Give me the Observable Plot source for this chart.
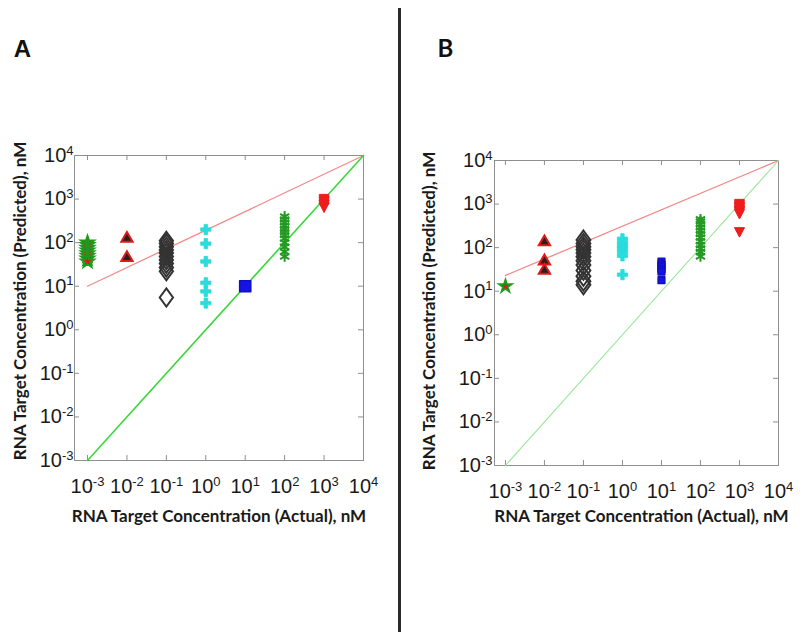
<!DOCTYPE html>
<html><head><meta charset="utf-8">
<script src="https://cdn.jsdelivr.net/npm/d3@7"></script>
<script src="https://cdn.jsdelivr.net/npm/@observablehq/plot@0.6"></script>
<style>
body{margin:0;background:#fff;}
#root{position:relative;width:800px;height:640px;overflow:hidden;background:#fff;}
#root svg{position:absolute;top:0;}
#divider{position:absolute;left:398px;top:8px;width:3px;height:624px;background:#2b2b2b;}
</style></head><body><div id="root"><div id="divider"></div></div>
<script>
// ---- categories / ticks ----
const xLevels = [0.001, 0.01, 0.1, 1, 10, 100, 1000];
const decadeTicks = [1e-3, 1e-2, 1e-1, 1e0, 1e1, 1e2, 1e3, 1e4];
const panelLetters = ["A", "B"];
const xTitle = "RNA Target Concentration (Actual), nM";
const yTitle = "RNA Target Concentration (Predicted), nM";

// ---- Panel A: predicted values at each actual concentration ----
const aStar = [100, 88, 76, 66, 57, 50, 43, 37];            // 1e-3
const aTriUp = [125, 45];                                    // 1e-2
const aDiamond = [110, 95, 80, 68, 58, 48, 40, 33, 27, 22, 5.5]; // 1e-1
const aCross = [200, 95, 37, 12, 7.6, 4.1];                  // 1e0
const aBlueSquare = [10];                                    // 1e1
const aAsterisk = [400, 340, 290, 245, 205, 175, 150, 125, 100, 80, 62, 48]; // 1e2
const aRedSquare = [1000];                                   // 1e3
const aTriDown = [900, 750, 650];                            // 1e3

// ---- Panel B ----
const bStar = [13];
const bTriUp = [135, 49, 30];
const bDiamond = [150, 125, 105, 90, 75, 62, 50, 40, 30, 22, 17, 14];
const bCross = [160, 130, 110, 95, 80, 65, 24];
const bBlueSquare = [48, 42, 37, 32, 28, 18];
const bAsterisk = [450, 400, 340, 290, 245, 205, 170, 140, 115, 95, 80, 63];
const bRedSquare = [1000];
const bTriDown = [850, 700, 600, 230];

// ---- reference lines (x, y) ----
const identityX = [1e-3, 1e4], identityY = [1e-3, 1e4];
const aFitX = [1e-3, 1e4], aFitY = [10, 1e4];
const bFitX = [1e-3, 1e4], bFitY = [23, 1e4];

// custom symbols
const triDown = {draw(ctx, size){const r=Math.sqrt(size/Math.PI); ctx.moveTo(-r,-0.85*r); ctx.lineTo(r,-0.85*r); ctx.lineTo(0,1.05*r); ctx.closePath();}};
const tallDiamond = {draw(ctx, size){const r=Math.sqrt(size/Math.PI); ctx.moveTo(0,-1.3*r); ctx.lineTo(0.95*r,0); ctx.lineTo(0,1.3*r); ctx.lineTo(-0.95*r,0); ctx.closePath();}};

function pts(vals, xi){ return vals.map(v => ({x: xLevels[xi], y: v})); }
function line(xs, ys){ return xs.map((x,i) => ({x, y: ys[i]})); }

function panel(cfg){
  const W = 400, H = 640;
  const fh = H - cfg.mt - cfg.mb;
  const fw = W - cfg.ml - cfg.mr;
  const frameColor = "#8f8f8f";
  const titleFont = "Lato, 'Open Sans', sans-serif";
  const s = cfg.series;
  const fmt = d => `10^${Math.round(Math.log10(d))}`;
  const plot = Plot.plot({
    width: W, height: H,
    marginLeft: cfg.ml, marginRight: cfg.mr, marginTop: cfg.mt, marginBottom: cfg.mb,
    style: {fontFamily: "'Liberation Sans', Arial, sans-serif", fontSize: "20px", color: "#1a1a1a", background: "transparent"},
    x: {type: "log", domain: [Math.pow(10, cfg.xmin), 1e4], axis: null},
    y: {type: "log", domain: [1e-3, 1e4], axis: null},
    marks: [
      Plot.frame({stroke: frameColor}),
      Plot.tickX(decadeTicks, {x: d => d, stroke: frameColor, insetTop: fh - 5}),
      Plot.tickX(decadeTicks, {x: d => d, stroke: frameColor, insetBottom: fh - 5}),
      Plot.tickY(decadeTicks, {y: d => d, stroke: frameColor, insetRight: fw - 5}),
      Plot.tickY(decadeTicks, {y: d => d, stroke: frameColor, insetLeft: fw - 5}),
      Plot.line(line(cfg.fitX, cfg.fitY), {x: "x", y: "y", stroke: "#f28a8a", strokeWidth: 1.3}),
      Plot.line(line(identityX, identityY), {x: "x", y: "y", stroke: cfg.green, strokeWidth: cfg.greenW}),
      Plot.dot(pts(s.star, 0), {x: "x", y: "y", symbol: "star", r: cfg.starR, fill: "#e01818", stroke: "#1f9a1f", strokeWidth: 1.8}),
      Plot.dot(pts(s.triUp, 1), {x: "x", y: "y", symbol: "triangle", r: 4.2, fill: "#222", stroke: "#e01818", strokeWidth: 2}),
      Plot.dot(pts(s.diamond, 2), {x: "x", y: "y", symbol: tallDiamond, r: cfg.diaR, fill: "none", stroke: "#333", strokeWidth: 2}),
      Plot.dot(pts(s.cross, 3), {x: "x", y: "y", symbol: "cross", r: 4.3, fill: "#2adcdc", stroke: "#2adcdc", strokeWidth: 0.8}),
      Plot.dot(pts(s.blueSquare, 4), {x: "x", y: "y", symbol: "square", r: cfg.blueR, fill: "#1414e6", stroke: "#1010c0", strokeWidth: 1.5, strokeLinejoin: "round"}),
      Plot.dot(pts(s.asterisk, 5), {x: "x", y: "y", symbol: "asterisk", r: 5, stroke: "#249a24", strokeWidth: 2}),
      Plot.dot(pts(s.triDown, 6), {x: "x", y: "y", symbol: triDown, r: 5, fill: "#ee1c1c", stroke: "#ee1c1c", strokeWidth: 1}),
      Plot.dot(pts(s.redSquare, 6), {x: "x", y: "y", symbol: "square", r: 5.3, fill: "#ee1c1c", stroke: "#ee1c1c", strokeWidth: 1}),
      Plot.axisX(decadeTicks, {anchor: "bottom", label: null, tickSize: 0, tickPadding: 18, tickFormat: fmt}),
      Plot.axisY(decadeTicks, {anchor: "left", label: null, tickSize: 0, tickPadding: cfg.yPad, tickFormat: fmt}),
      Plot.text([xTitle], {frameAnchor: "bottom", textAnchor: "middle", lineAnchor: "middle", dx: cfg.xtDx, dy: cfg.xtDy, text: d => d, fontFamily: titleFont, fontWeight: "bold", fontSize: 17, fill: "#1a1a1a"}),
      Plot.text([yTitle], {frameAnchor: "left", textAnchor: "middle", lineAnchor: "middle", dx: cfg.ytDx, dy: cfg.ytDy, rotate: -90, text: d => d, fontFamily: titleFont, fontWeight: "bold", fontSize: 17, fill: "#1a1a1a"}),
      Plot.text([cfg.letter], {frameAnchor: "top-left", textAnchor: "middle", lineAnchor: "middle", dx: cfg.lDx, dy: cfg.lDy, text: d => d, fontFamily: cfg.letterFont, fontWeight: "bold", fontSize: 24, fill: "#111"})
    ]
  });
  // superscript exponents on tick labels
  d3.select(plot).selectAll('g[aria-label$="tick label"] text').each(function(){
    const t = this.textContent; const parts = t.split("^");
    if (parts.length < 2) return;
    const sel = d3.select(this); sel.text(null);
    sel.append("tspan").text(parts[0]);
    sel.append("tspan").attr("dy", "-0.55em").attr("font-size", "13px").text(parts[1]);
  });
  plot.style.left = cfg.left + "px";
  return plot;
}

const root = document.getElementById("root");
root.appendChild(panel({
  left: 0, ml: 74, mr: 37, mt: 155, mb: 180, xmin: -3.33,
  fitX: aFitX, fitY: aFitY, green: "#3bd83b", greenW: 1.6,
  starR: 4.2, diaR: 7, blueR: 6.3, yPad: 1,
  xtDx: 0, xtDy: 56, ytDx: -54, ytDy: -7,
  letter: panelLetters[0], letterFont: "'Liberation Sans', Arial, sans-serif", lDx: -52, lDy: -106,
  series: {star: aStar, triUp: aTriUp, diamond: aDiamond, cross: aCross, blueSquare: aBlueSquare, asterisk: aAsterisk, redSquare: aRedSquare, triDown: aTriDown}
}));
root.appendChild(panel({
  left: 400, ml: 94, mr: 22, mt: 160, mb: 175, xmin: -3.28,
  fitX: bFitX, fitY: bFitY, green: "#9be89b", greenW: 1.1,
  starR: 4, diaR: 7.3, blueR: 3.8, yPad: 2,
  xtDx: 5, xtDy: 51, ytDx: -65, ytDy: -2,
  letter: panelLetters[1], letterFont: "Lato, sans-serif", lDx: -49, lDy: -111,
  series: {star: bStar, triUp: bTriUp, diamond: bDiamond, cross: bCross, blueSquare: bBlueSquare, asterisk: bAsterisk, redSquare: bRedSquare, triDown: bTriDown}
}));
</script></body></html>
